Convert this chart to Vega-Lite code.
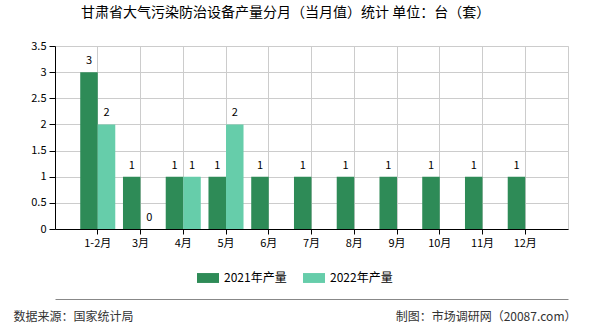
{
  "$schema": "https://vega.github.io/schema/vega-lite/v6.json",
  "width": 513,
  "height": 183,
  "autosize": {"type": "none"},
  "padding": {"left": 55, "top": 46, "right": 22, "bottom": 101},
  "background": "white",
  "config": {
    "font": "Noto Sans CJK SC",
    "view": {"stroke": "#cccccc"}
  },
  "title": {
    "text": "甘肃省大气污染防治设备产量分月（当月值）统计 单位：台（套）",
    "anchor": "start",
    "frame": "group",
    "dx": 26,
    "fontSize": 14,
    "fontWeight": "normal",
    "color": "#000000",
    "baseline": "middle",
    "offset": 13
  },
  "data": {
    "values": [
      {"month": "1-2月", "series": "2021年产量", "value": 3},
      {"month": "3月", "series": "2021年产量", "value": 1},
      {"month": "4月", "series": "2021年产量", "value": 1},
      {"month": "5月", "series": "2021年产量", "value": 1},
      {"month": "6月", "series": "2021年产量", "value": 1},
      {"month": "7月", "series": "2021年产量", "value": 1},
      {"month": "8月", "series": "2021年产量", "value": 1},
      {"month": "9月", "series": "2021年产量", "value": 1},
      {"month": "10月", "series": "2021年产量", "value": 1},
      {"month": "11月", "series": "2021年产量", "value": 1},
      {"month": "12月", "series": "2021年产量", "value": 1},
      {"month": "1-2月", "series": "2022年产量", "value": 2},
      {"month": "3月", "series": "2022年产量", "value": 0},
      {"month": "4月", "series": "2022年产量", "value": 1},
      {"month": "5月", "series": "2022年产量", "value": 2}
    ]
  },
  "layer": [
    {
      "mark": {"type": "bar"},
      "encoding": {
        "x": {
          "field": "month", "type": "nominal",
          "sort": ["1-2月","3月","4月","5月","6月","7月","8月","9月","10月","11月","12月"],
          "scale": {"paddingInner": 0, "paddingOuter": 0.5},
          "axis": {
            "title": null, "labelAngle": 0, "grid": true, "gridColor": "#cccccc",
            "bandPosition": 0.5, "tickSize": 5, "tickColor": "#000000",
            "domainColor": "#000000", "labelPadding": 3, "labelFontSize": 11,
            "labelColor": "#000000"
          }
        },
        "xOffset": {
          "field": "series", "type": "nominal", "sort": ["2021年产量","2022年产量"],
          "scale": {"paddingInner": 0, "paddingOuter": 0.22}
        },
        "y": {
          "field": "value", "type": "quantitative",
          "scale": {"domain": [0, 3.5]},
          "axis": {
            "values": [0, 0.5, 1, 1.5, 2, 2.5, 3, 3.5], "format": "~g",
            "labelOverlap": false,
            "grid": true, "gridColor": "#cccccc", "domainColor": "#000000",
            "tickColor": "#000000", "tickSize": 6, "labelPadding": 3,
            "labelFontSize": 11, "labelColor": "#000000",
            "title": "数据来源：国家统计局", "titleAngle": 0, "titleX": -42, "titleY": 270,
            "titleAlign": "left", "titleBaseline": "middle", "titleFontSize": 12,
            "titleFontWeight": "normal", "titleColor": "#333333"
          }
        },
        "color": {
          "field": "series", "type": "nominal",
          "scale": {"domain": ["2021年产量","2022年产量"], "range": ["#2e8b57","#66cdaa"]},
          "legend": {
            "title": null, "orient": "none", "legendX": 142, "legendY": 221,
            "direction": "horizontal", "symbolType": "M-1,-0.45H1V0.45H-1Z",
            "symbolSize": 484, "symbolStrokeWidth": 0, "labelFontSize": 12,
            "labelOffset": 5, "columnPadding": 16, "labelColor": "#000000"
          }
        }
      }
    },
    {
      "mark": {"type": "text", "baseline": "middle", "dy": -11, "fontSize": 11, "color": "#000000"},
      "encoding": {
        "x": {
          "field": "month", "type": "nominal",
          "sort": ["1-2月","3月","4月","5月","6月","7月","8月","9月","10月","11月","12月"],
          "axis": {
            "orient": "bottom", "offset": 70, "domain": true, "domainColor": "#888888", "domainWidth": 1,
            "labels": false, "ticks": false, "grid": false,
            "title": "制图：市场调研网（20087.com）", "titleX": 521, "titleY": 17,
            "titleAlign": "right", "titleBaseline": "middle", "titleFontSize": 12,
            "titleFontWeight": "normal", "titleColor": "#333333"
          }
        },
        "xOffset": {"field": "series", "type": "nominal", "sort": ["2021年产量","2022年产量"]},
        "y": {
          "field": "value", "type": "quantitative",
          "scale": {"domain": [0, 3.5]},
          "axis": {
            "values": [0, 0.5, 1, 1.5, 2, 2.5, 3, 3.5], "format": "~g",
            "labelOverlap": false,
            "grid": true, "gridColor": "#cccccc", "domainColor": "#000000",
            "tickColor": "#000000", "tickSize": 6, "labelPadding": 3,
            "labelFontSize": 11, "labelColor": "#000000",
            "title": "数据来源：国家统计局", "titleAngle": 0, "titleX": -42, "titleY": 270,
            "titleAlign": "left", "titleBaseline": "middle", "titleFontSize": 12,
            "titleFontWeight": "normal", "titleColor": "#333333"
          }
        },
        "text": {"field": "value", "type": "quantitative"}
      }
    }
  ],
  "resolve": {"axis": {"x": "independent"}}
}
